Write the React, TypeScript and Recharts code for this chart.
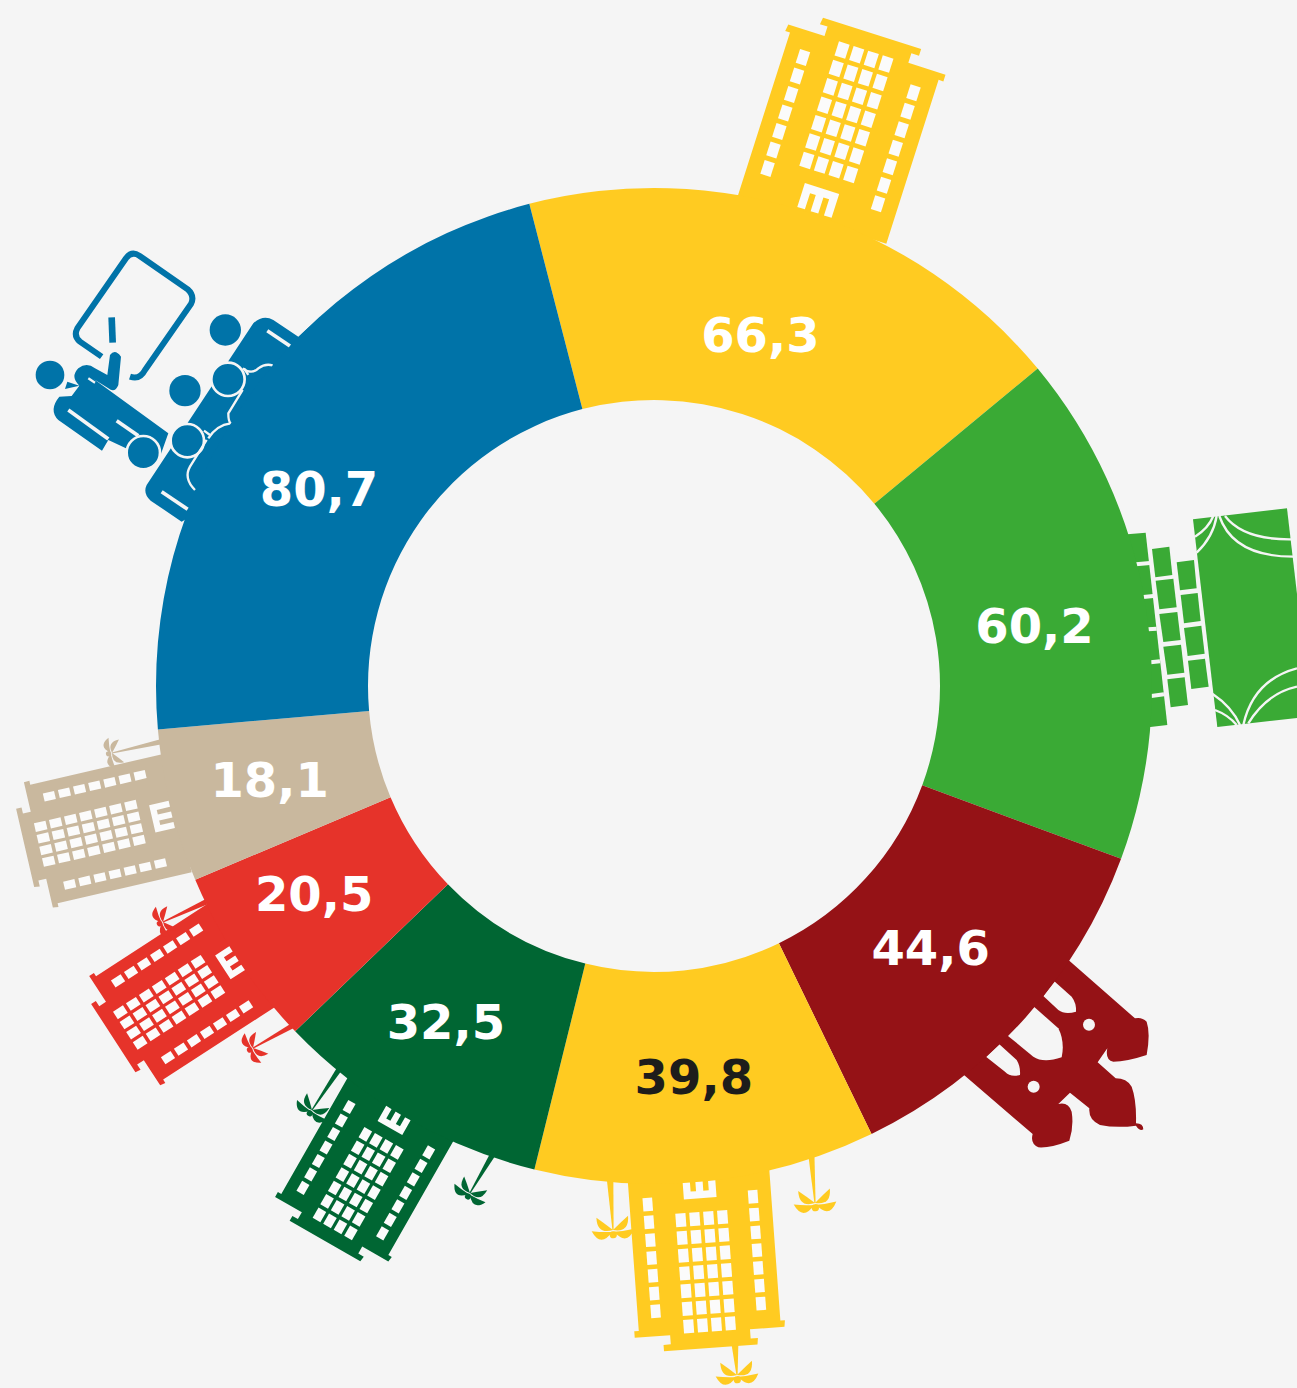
import { PieChart, Pie, Cell } from "recharts";

const categories = ["A", "B", "C", "D", "E", "F", "G", "H"];
const values = [66.3, 60.2, 44.6, 39.8, 32.5, 20.5, 18.1, 80.7];
// the arcs in the picture are not quite proportional to the printed numbers, so sizes are read off separately
const sweeps = [64.9, 59.9, 43.8, 39.8, 32.2, 21, 17.9, 80.5];
const colors = ["#ffcb21", "#3aaa35", "#951216", "#ffcb21", "#006633", "#e6332a", "#c9b89e", "#0073a8"];
const labelColors = ["#fff", "#fff", "#fff", "#1d1d1b", "#fff", "#fff", "#fff", "#fff"];

// label placement tweaks, the labels do not sit exactly on the mid radius
const labelRadius = [366, 385, 382, 394, 396, 399, 396, 388];
const labelTurn = [-1.05, 0.85, 1.4, 0.2, 1.7, 1.8, 0, -4.95];

const data = categories.map((name, i) => ({ name, value: values[i], sweep: sweeps[i] }));

const BG = "#f5f5f5";
const WINDOW = "#fbfbfb";
const RAD = Math.PI / 180;
const YELLOW = colors[0];
const GREEN = colors[1];
const DARKRED = colors[2];
const DARKGREEN = colors[4];
const RED = colors[5];
const TAN = colors[6];
const BLUE = colors[7];

const renderLabel = (props: any) => {
  const { cx, cy, midAngle, index } = props;
  const a = (midAngle - labelTurn[index]) * RAD;
  const r = labelRadius[index];
  return (
    <text
      x={cx + r * Math.cos(a)}
      y={cy - r * Math.sin(a) - 1}
      fill={labelColors[index]}
      textAnchor="middle"
      dominantBaseline="central"
      fontFamily="'DejaVu Sans', sans-serif"
      fontWeight={700}
      fontSize={48}
    >
      {values[index].toFixed(1).replace(".", ",")}
    </text>
  );
};

const range = (n: number) => Array.from({ length: n }, (_, i) => i);

// building drawn pointing up from (0,0), v goes outwards from the ring
function Building({ x, y, rot, sx, sy, color }: any) {
  return (
    <g transform={`translate(${x} ${y}) rotate(${rot}) scale(${sx} ${sy})`}>
      <path
        fill={color}
        d="M-78,0 L-78,-172 L-83,-172 L-82,-179 L-44,-179 L-44,-189 L-52,-189 L-51,-196 L52,-196 L52,-189 L44,-189 L44,-179 L83,-179 L83,-172 L78,-172 L78,0 Z"
      />
      <g fill={WINDOW}>
        {range(7).map((r) =>
          [-23, -7.65, 7.65, 23].map((u) => (
            <rect key={`${r}-${u}`} x={u - 5.6} y={-171 + r * 19.3 - 7.4} width={11.2} height={14.8} />
          ))
        )}
        {range(7).map((r) =>
          [-58, 58].map((u) => (
            <rect key={`${r}-${u}`} x={u - 5.3} y={-152 + r * 19.4 - 7.2} width={10.6} height={14.4} />
          ))
        )}
        <path d="M-18,-33 L18,-33 L18,-8 L10,-8 L10,-25 L4,-25 L4,-8 L-4,-8 L-4,-25 L-10,-25 L-10,-8 L-18,-8 Z" />
      </g>
    </g>
  );
}

// palm from the ring (x1,y1) to its crown (x2,y2)
function Palm({ x1, y1, x2, y2, s, color }: any) {
  const len = Math.hypot(x2 - x1, y2 - y1);
  const rot = Math.atan2(x2 - x1, -(y2 - y1)) / RAD;
  const frond = (
    <>
      <path d="M0,0 Q-17,-4 -16.7,14 Q-9,8 0,0 Z" />
      <path d="M-1,-2 Q-14,-18 -22.5,0 Q-11,-2 -1,-2 Z" />
    </>
  );
  return (
    <g transform={`translate(${x2} ${y2}) rotate(${rot})`} fill={color}>
      <path d={`M-${3.5 * s},${len} L${3.5 * s},${len} L0.6,0 L-0.6,0 Z`} />
      <g transform={`scale(${s})`}>
        {frond}
        <g transform="scale(-1 1)">{frond}</g>
        <circle cx={0} cy={-5} r={3.8} />
      </g>
    </g>
  );
}

function GreenBuilding() {
  const cells = [
    "126,177 178,170 187,255 136,262",
    "137,272 190,266 200,352 148,358",
    "148,372 202,366 212,450 160,456",
    "160,470 213,464 223,548 172,554",
    "172,568 224,562 234,645 182,652",
    "200,217 252,210 260,295 210,301",
    "212,315 263,309 272,393 222,400",
    "222,414 274,407 284,491 233,498",
    "234,512 285,506 296,590 244,597",
  ];
  const ticks = [
    [78, 223, 120, 219],
    [100, 321, 130, 318],
    [114, 418, 140, 416],
    [122, 517, 150, 514],
    [124, 618, 162, 613],
  ];
  return (
    <g transform="translate(1110 490) scale(0.3333)">
      <polygon fill={GREEN} points="52,133 107,128 172,705 115,712 60,712 0,400" />
      {cells.map((p) => (
        <polygon key={p} fill={GREEN} points={p} />
      ))}
      {ticks.map(([a, b, c, d]) => (
        <line key={a} x1={a} y1={b} x2={c} y2={d} stroke={BG} strokeWidth={12} />
      ))}
      <polygon fill={GREEN} points="249,88 531,55 604,679 322,711" />
      <g fill="none" stroke={BG} strokeWidth={7}>
        <path d="M255,140 Q295,115 310,78" />
        <path d="M260,188 Q310,140 320,78" />
        <path d="M328,78 Q370,200 550,200" />
        <path d="M345,78 Q400,150 545,148" />
        <path d="M308,612 Q365,650 390,705" />
        <path d="M315,660 Q355,675 380,705" />
        <path d="M400,705 Q430,570 561,535" />
        <path d="M415,700 Q470,610 561,590" />
      </g>
    </g>
  );
}

function RedTowers() {
  return (
    <g transform="translate(950 950) scale(0.3333)">
      <path
        fill={DARKRED}
        d="M358,32 L555,205 Q575,200 590,215 Q602,250 590,315 Q530,335 490,335 Q465,330 472,295 L443,337 L497,385 Q530,385 545,410 Q560,450 558,520 Q580,520 580,538 Q570,545 558,527 Q500,535 450,525 Q415,510 418,475 L360,428 L325,462 Q355,455 365,485 Q372,530 358,572 Q300,595 265,592 Q240,580 248,552 L42,375 L-60,300 L200,0 Z"
      />
      <g fill={BG}>
        <path d="M313,94 L365,140 Q380,160 378,185 Q345,195 325,180 L280,138 Z" />
        <path d="M252,170 L325,235 Q345,275 335,322 Q280,340 250,320 L173,257 Z" />
        <path d="M148,283 L200,330 Q212,350 210,375 Q180,382 165,365 L108,320 Z" />
        <circle cx={417} cy={224} r={18} />
        <circle cx={251} cy={410} r={18} />
      </g>
    </g>
  );
}

function People() {
  return (
    <g transform="translate(20 240) scale(0.3333)">
      <path
        fill="none"
        stroke={BLUE}
        strokeWidth={18}
        d="M245,350 L180,305 Q160,288 172,265 L318,55 Q335,32 358,47 L503,148 Q525,168 513,192 L375,390 Q360,420 330,410"
      />
      <line x1={275} y1={232} x2={278} y2={308} stroke={BLUE} strokeWidth={20} />
      <path
        fill={BLUE}
        d="M835,290 L760,240 Q730,222 700,250 L380,735 Q368,760 392,782 L485,845 L900,600 L900,230 Z"
      />
      <path
        fill={BLUE}
        d="M118,470 L155,468 L178,437 Q150,410 175,385 Q200,365 225,385 L262,405 L270,345 Q285,325 303,350 L295,435 Q285,460 265,445 L222,418 L445,580 L420,650 L350,640 L265,600 L246,632 L115,540 Q85,510 118,470 Z"
      />
      <path fill={BLUE} d="M142,425 L135,447 L178,437 Z" />
      <g stroke={BG} strokeWidth={11} fill="none">
        <line x1={145} y1={510} x2={265} y2={597} />
        <line x1={290} y1={542} x2={355} y2={587} />
        <line x1={742} y1={272} x2={810} y2={318} />
        <line x1={425} y1={755} x2={503} y2={808} />
        <line x1={205} y1={415} x2={225} y2={428} strokeWidth={7} />
      </g>
      <g fill={BLUE}>
        <circle cx={90} cy={405} r={43} />
        <circle cx={495} cy={452} r={47} />
        <circle cx={616} cy={270} r={47} />
      </g>
      <g fill={BLUE} stroke={BG} strokeWidth={8}>
        <circle cx={370} cy={638} r={50} />
        <circle cx={624} cy={418} r={50} />
        <circle cx={502} cy={602} r={50} />
      </g>
      <g fill="none" stroke={BG} strokeWidth={7}>
        <path d="M668,385 Q695,405 715,385 Q735,370 758,376" />
        <path d="M668,450 L625,520 Q625,545 632,550 Q590,555 565,595" />
        <path d="M560,600 L510,680 Q490,715 525,750" />
        <line x1={672} y1={385} x2={685} y2={405} />
        <line x1={552} y1={572} x2={570} y2={585} />
      </g>
    </g>
  );
}

function Decorations() {
  return (
    <g>
      <Building x={812} y={220} rot={17.7} sx={1} sy={1} color={YELLOW} />
      <Building x={698} y={1168} rot={175.8} sx={0.91} sy={0.92} color={YELLOW} />
      <Building x={403} y={1105} rot={209.7} sx={0.79} sy={0.8} color={DARKGREEN} />
      <Building x={245} y={953} rot={237} sx={0.79} sy={0.8} color={RED} />
      <Building x={178} y={813} rot={257} sx={0.78} sy={0.8} color={TAN} />

      <Palm x1={610} y1={1178} x2={613} y2={1230} s={0.95} color={YELLOW} />
      <Palm x1={811} y1={1150} x2={815} y2={1203} s={0.95} color={YELLOW} />
      <Palm x1={735} y1={1345} x2={737} y2={1375} s={0.95} color={YELLOW} />
      <Palm x1={340} y1={1068} x2={312} y2={1110} s={0.8} color={DARKGREEN} />
      <Palm x1={493} y1={1154} x2={470} y2={1193} s={0.8} color={DARKGREEN} />
      <Palm x1={206} y1={902} x2={163} y2={922} s={0.75} color={RED} />
      <Palm x1={292} y1={1026} x2={253} y2={1048} s={0.75} color={RED} />
      <Palm x1={160} y1={742} x2={112} y2={753} s={0.7} color={TAN} />

      <GreenBuilding />
      <RedTowers />
      <People />
    </g>
  );
}

export default function App() {
  return (
    <div style={{ position: "absolute", top: 0, left: 0, width: 1297, height: 1388, background: BG, overflow: "hidden" }}>
      <PieChart width={1297} height={1388} margin={{ top: 0, right: 0, bottom: 0, left: 0 }}>
        <Pie
          data={data}
          dataKey="sweep"
          nameKey="name"
          cx={654}
          cy={686}
          innerRadius={286}
          outerRadius={498}
          startAngle={104.5}
          endAngle={-255.5}
          stroke="none"
          label={renderLabel}
          labelLine={false}
          isAnimationActive={false}
        >
          {data.map((d, i) => (
            <Cell key={d.name} fill={colors[i]} />
          ))}
        </Pie>
        <Decorations />
      </PieChart>
    </div>
  );
}
